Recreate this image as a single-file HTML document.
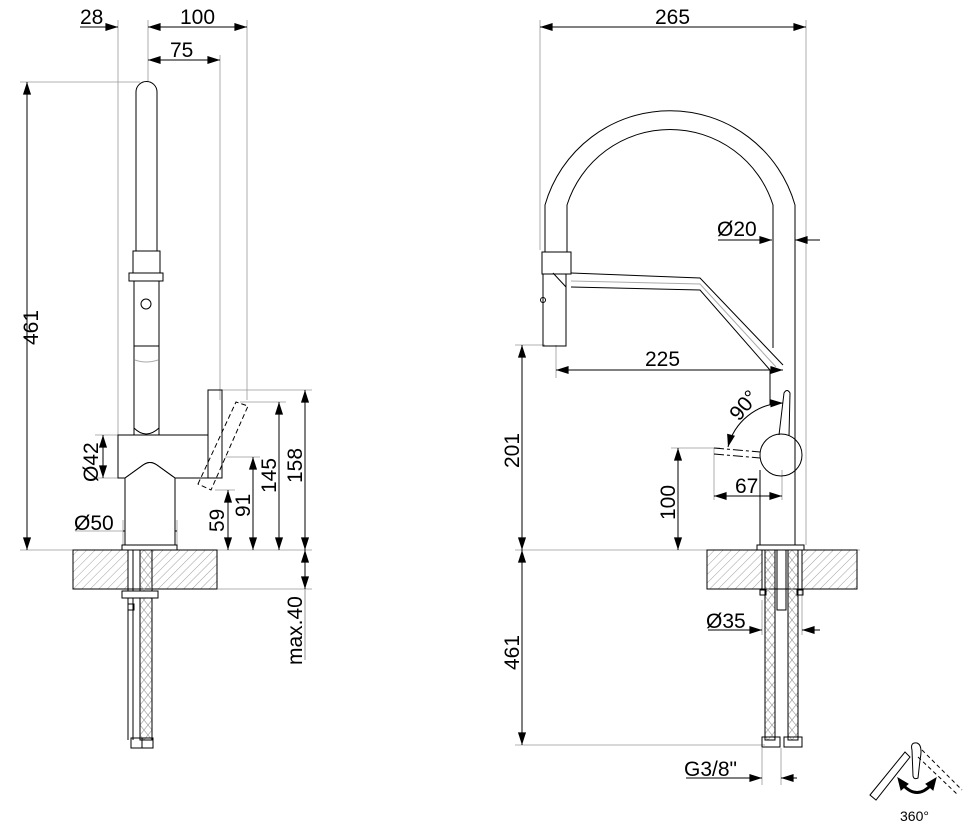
<!DOCTYPE html>
<html><head><meta charset="utf-8"><style>
html,body{margin:0;padding:0;background:#fff}
svg{display:block}
text{font-family:"Liberation Sans",Arial,sans-serif;fill:#000}
</style></head><body>
<svg width="974" height="828" viewBox="0 0 974 828" xmlns="http://www.w3.org/2000/svg">
<defs>
<pattern id="h" width="6" height="6" patternUnits="userSpaceOnUse" patternTransform="rotate(45)">
<line x1="0" y1="0" x2="0" y2="6" stroke="#888" stroke-width="0.8"/>
</pattern>
<pattern id="x" width="8" height="10" patternUnits="userSpaceOnUse">
<path d="M0 0L8 10M8 0L0 10" stroke="#999" stroke-width="0.6"/>
</pattern>
<marker id="a" viewBox="0 0 14 10" refX="14" refY="5" markerWidth="14" markerHeight="9" orient="auto-start-reverse" markerUnits="userSpaceOnUse">
<path d="M0 0.5L14 5L0 9.5z" fill="#000"/>
</marker>
</defs>
<g fill="none" stroke="#000" stroke-width="1">
<!-- ===== LEFT VIEW ===== -->
<g stroke="#999" stroke-width="0.8">
<line x1="118" y1="20" x2="118" y2="440"/>
<line x1="148" y1="20" x2="148" y2="82"/>
<line x1="220" y1="55" x2="220" y2="400"/>
<line x1="247" y1="20" x2="247" y2="400"/>
<line x1="20" y1="82" x2="140" y2="82"/>
<line x1="20" y1="550" x2="312" y2="550"/>
<line x1="218" y1="589" x2="312" y2="589"/>
<line x1="222" y1="390" x2="312" y2="390"/>
<line x1="240" y1="402" x2="286" y2="402"/>
<line x1="225" y1="457" x2="260" y2="457"/>
<line x1="215" y1="490" x2="235" y2="490"/>
<line x1="95" y1="435" x2="118" y2="435"/>
<line x1="95" y1="478" x2="118" y2="478"/>
<line x1="75" y1="531" x2="123" y2="531"/>
<line x1="123" y1="520" x2="123" y2="545"/>
<line x1="177" y1="520" x2="177" y2="545"/>
</g>
<line x1="80" y1="27" x2="118" y2="27" marker-end="url(#a)"/>
<line x1="148" y1="27" x2="247" y2="27" marker-start="url(#a)" marker-end="url(#a)"/>
<line x1="148" y1="60" x2="220" y2="60" marker-start="url(#a)" marker-end="url(#a)"/>
<line x1="27" y1="82" x2="27" y2="550" marker-start="url(#a)" marker-end="url(#a)"/>
<line x1="103" y1="435" x2="103" y2="478" marker-start="url(#a)" marker-end="url(#a)"/>
<line x1="123" y1="531" x2="177" y2="531" marker-start="url(#a)" marker-end="url(#a)"/>
<line x1="228" y1="490" x2="228" y2="550" marker-start="url(#a)" marker-end="url(#a)"/>
<line x1="253" y1="457" x2="253" y2="550" marker-start="url(#a)" marker-end="url(#a)"/>
<line x1="279" y1="402" x2="279" y2="550" marker-start="url(#a)" marker-end="url(#a)"/>
<line x1="305" y1="390" x2="305" y2="550" marker-start="url(#a)" marker-end="url(#a)"/>
<line x1="305" y1="550" x2="305" y2="589" marker-start="url(#a)" marker-end="url(#a)"/>
<line x1="305" y1="589" x2="305" y2="660" stroke="#999"/>
<!-- tube -->
<path d="M136 251V92A10.5 10.5 0 0 1 157 92V251"/>
<rect x="133" y="251" width="27" height="22"/>
<rect x="129" y="273" width="34" height="8"/>
<path d="M134 281V435M159 281V435"/>
<circle cx="146" cy="304" r="5"/>
<line x1="134" y1="346" x2="159" y2="346"/>
<path d="M135 360Q146 364 158 360" stroke="#aaa"/>
<path d="M134 428Q146 440 159 428"/>
<!-- body -->
<rect x="118" y="435" width="90" height="43"/>
<path d="M125 545V478L143 465Q150 460 157 465L175 478V545" fill="#fff"/>
<line x1="125" y1="478" x2="175" y2="478" stroke="#fff" stroke-width="1.5"/>
<path d="M125 545V478L143 465Q150 460 157 465L175 478V545"/>
<rect x="122" y="545" width="55" height="5"/>
<!-- lever -->
<rect x="208" y="390" width="14" height="88"/>
<path d="M198 484L236 402L248 406L211 490Z" stroke-dasharray="5 3"/>
<!-- counter -->
<rect x="73" y="550" width="144" height="39" fill="url(#h)"/>
<rect x="128" y="550" width="24" height="39" fill="#fff"/>
<path d="M128 550V740M133 550V740M140 550V740M152 550V740"/>
<rect x="140" y="550" width="12" height="190" fill="url(#x)"/>
<rect x="122" y="591" width="36" height="7" fill="#fff"/>
<rect x="128" y="604" width="6" height="6"/>
<rect x="131" y="738" width="11" height="10"/>
<rect x="142" y="738" width="11" height="10"/>
<!-- ===== RIGHT VIEW ===== -->
<g stroke="#999" stroke-width="0.8">
<line x1="540" y1="20" x2="540" y2="250"/>
<line x1="806" y1="20" x2="806" y2="545"/>
<line x1="515" y1="345" x2="545" y2="345"/>
<line x1="556" y1="345" x2="556" y2="378"/>
<line x1="515" y1="550" x2="860" y2="550"/>
<line x1="515" y1="745" x2="765" y2="745"/>
<line x1="671" y1="448" x2="720" y2="448"/>
<line x1="714" y1="448" x2="714" y2="500"/>
<line x1="782" y1="470" x2="782" y2="500"/>
<line x1="762" y1="748" x2="762" y2="785"/>
<line x1="781" y1="748" x2="781" y2="785"/>
<line x1="762" y1="600" x2="762" y2="635"/>
<line x1="802" y1="590" x2="802" y2="635"/>
</g>
<line x1="540" y1="27" x2="806" y2="27" marker-start="url(#a)" marker-end="url(#a)"/>
<line x1="718" y1="240" x2="772" y2="240" marker-end="url(#a)"/>
<line x1="820" y1="240" x2="795" y2="240" marker-end="url(#a)"/>
<line x1="556" y1="370" x2="783" y2="370" marker-start="url(#a)" marker-end="url(#a)"/>
<line x1="522" y1="345" x2="522" y2="550" marker-start="url(#a)" marker-end="url(#a)"/>
<line x1="522" y1="550" x2="522" y2="745" marker-start="url(#a)" marker-end="url(#a)"/>
<line x1="678" y1="448" x2="678" y2="550" marker-start="url(#a)" marker-end="url(#a)"/>
<line x1="714" y1="496" x2="782" y2="496" marker-start="url(#a)" marker-end="url(#a)"/>
<path d="M728 447A58 58 0 0 1 783 403" marker-start="url(#a)" marker-end="url(#a)"/>
<line x1="708" y1="630" x2="762" y2="630" marker-end="url(#a)"/>
<line x1="820" y1="630" x2="802" y2="630" marker-end="url(#a)"/>
<line x1="686" y1="778" x2="762" y2="778" marker-end="url(#a)"/>
<line x1="797" y1="778" x2="781" y2="778" marker-end="url(#a)"/>
<!-- gooseneck -->
<path d="M545 252V205A130 130 0 0 1 795 205V410"/>
<path d="M567 252V205A108 108 0 0 1 773 205V348"/>
<rect x="542" y="252" width="29" height="22"/>
<path d="M543 274V346H566V274"/>
<circle cx="543" cy="300" r="2.5"/>
<path d="M571 273L700 278L783 365"/>
<path d="M571 287L700 290L770 370"/>
<path d="M571 281L700 284L776 367" stroke="#aaa"/>
<path d="M553 273L566 287"/>
<path d="M770 370V405M795 410V545M760 545V470"/>
<circle cx="781" cy="455" r="21"/>
<path d="M779 435L784 393Q787 388 790 393L789 436"/>
<path d="M714 448L760 452M714 454L760 458" stroke-dasharray="10 3 3 3"/>
<rect x="757" y="545" width="47" height="5"/>
<rect x="707" y="550" width="150" height="39" fill="url(#h)"/>
<rect x="762" y="550" width="40" height="39" fill="#fff"/>
<rect x="765" y="550" width="10" height="190" fill="url(#x)"/>
<rect x="788" y="550" width="10" height="190" fill="url(#x)"/>
<rect x="777" y="550" width="9" height="60"/>
<rect x="760" y="590" width="6" height="5"/>
<rect x="797" y="590" width="6" height="5"/>
<rect x="762" y="737" width="18" height="10"/>
<rect x="784" y="737" width="18" height="10"/>
<!-- 360 icon -->
<path d="M870 795L905 752L910 757L876 800Z" stroke-linecap="round"/>
<path d="M918 757L958 795" stroke-dasharray="4 3"/>
<path d="M922 750L962 790" stroke-dasharray="4 3"/>
<path d="M912 750Q910 742 917 743Q923 745 920 760L918 778Q914 780 913 776Z"/>
<path d="M903 785Q917 800 931 785" stroke-width="3"/>
<path d="M898 778L901 790L908 784Z" fill="#000"/>
<path d="M936 778L933 790L926 784Z" fill="#000"/>
</g>
<g font-size="21">
<text x="80" y="24">28</text>
<text x="180" y="24">100</text>
<text x="170" y="57">75</text>
<text x="74" y="530">Ø50</text>
<text x="655" y="24">265</text>
<text x="717" y="236">Ø20</text>
<text x="645" y="366">225</text>
<text x="735" y="493">67</text>
<text x="706" y="628">Ø35</text>
<text x="684" y="776">G3/8"</text>
<text transform="translate(38,345) rotate(-90)">461</text>
<text transform="translate(98,482) rotate(-90)">Ø42</text>
<text transform="translate(224,532) rotate(-90)">59</text>
<text transform="translate(250,517) rotate(-90)">91</text>
<text transform="translate(276,493) rotate(-90)">145</text>
<text transform="translate(302,483) rotate(-90)">158</text>
<text transform="translate(302,665) rotate(-90)">max.40</text>
<text transform="translate(519,468) rotate(-90)">201</text>
<text transform="translate(519,670) rotate(-90)">461</text>
<text transform="translate(675,520) rotate(-90)">100</text>
<text transform="translate(739,422) rotate(-50)">90°</text>
</g>
<text x="900" y="821" font-size="14">360°</text>
</svg>
</body></html>
